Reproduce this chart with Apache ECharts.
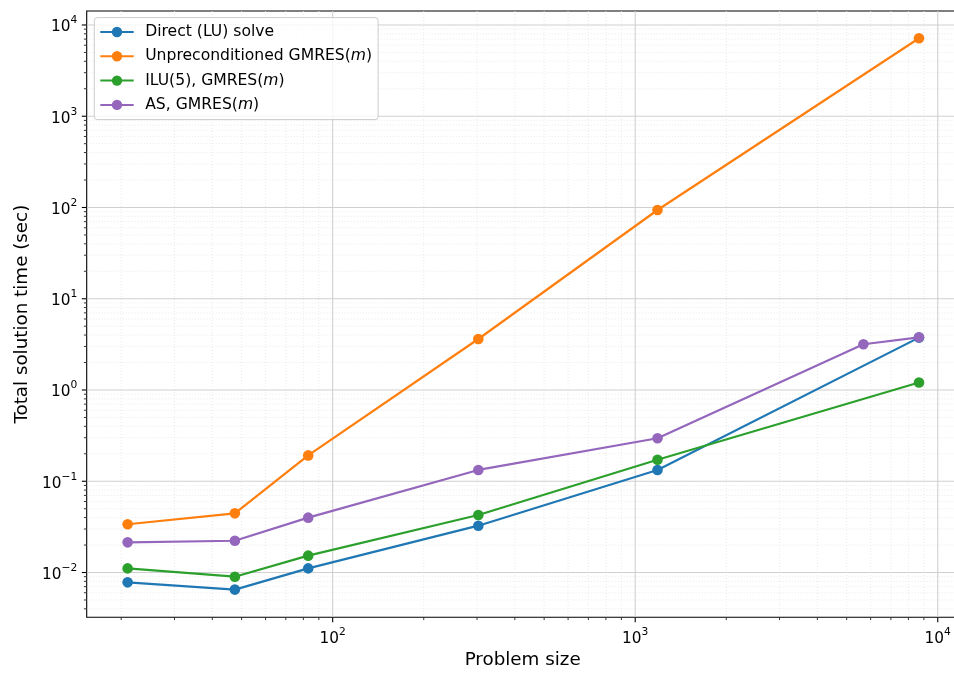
<!DOCTYPE html>
<html>
<head>
<meta charset="utf-8">
<script src="https://cdn.jsdelivr.net/npm/echarts@6/dist/echarts.min.js"></script>
<style>
  html, body { margin: 0; padding: 0; background: #ffffff; }
  #chart { width: 954px; height: 675px; }
</style>
</head>
<body>
<div id="chart"></div>
<script>
// Problem sizes (x) and total solution times in seconds (y)
const problemSize = [21, 47.5, 83, 303, 1185, 8670];
const asProblemSize = [21, 47.5, 83, 303, 1185, 5680, 8670];
const directLU = [0.0078, 0.0065, 0.0111, 0.0326, 0.133, 3.75];
const unpreconditioned = [0.0338, 0.0445, 0.192, 3.62, 93.9, 7150];
const ilu5 = [0.0111, 0.0090, 0.0153, 0.0427, 0.172, 1.21];
const additiveSchwarz = [0.0214, 0.0223, 0.0399, 0.133, 0.296, 3.17, 3.78];

const seriesNames = ['Direct (LU) solve', 'Unpreconditioned GMRES(m)', 'ILU(5), GMRES(m)', 'AS, GMRES(m)'];
const seriesColors = ['#1f77b4', '#ff7f0e', '#2ca02c', '#9467bd'];

// Axis limits and tick positions
const xLimits = [15.38, 11720];
const yLimits = [0.00323, 14230];
const xMajorTicks = [1e2, 1e3, 1e4];
const yMajorTicks = [1e-2, 1e-1, 1e0, 1e1, 1e2, 1e3, 1e4];
const minorMantissas = [2, 3, 4, 5, 6, 7, 8, 9];
const xMinorDecades = [1e1, 1e2, 1e3];
const yMinorDecades = [1e-3, 1e-2, 1e-1, 1e0, 1e1, 1e2, 1e3];

function minorTicks(decades, lim) {
  const out = [];
  decades.forEach(d => minorMantissas.forEach(m => {
    const v = +(m * d).toPrecision(6);
    if (v > lim[0] && v < lim[1]) out.push(v);
  }));
  return out;
}
const xMinorTicks = minorTicks(xMinorDecades, xLimits);
const yMinorTicks = minorTicks(yMinorDecades, yLimits);

const FONT = 'DejaVu Sans';

function powerLabel(v) {
  const e = Math.round(Math.log10(v));
  if (Math.abs(Math.log10(v) - e) > 1e-6) return '';
  const exp = e < 0 ? '\u2212' + (-e) : String(e);
  return '{b|10}{s|' + exp + '}';
}
const labelRich = {
  b: { fontFamily: FONT, fontSize: 15.3, color: '#000', lineHeight: 20, verticalAlign: 'bottom' },
  s: { fontFamily: FONT, fontSize: 10.7, color: '#000', lineHeight: 12, verticalAlign: 'top' }
};

// Grid lines and outward tick marks drawn through the axis scales
function tickSeries(dir, values, major) {
  return {
    type: 'custom',
    silent: true,
    z: 1,
    clip: false,
    animation: false,
    data: values.map(v => dir === 'x' ? [v, 1] : [100, v]),
    encode: { x: 0, y: 1 },
    renderItem(params, api) {
      const cs = params.coordSys;
      const p = api.coord([api.value(0), api.value(1)]);
      const gridStyle = major
        ? { stroke: '#d0d0d0', lineWidth: 1.1 }
        : { stroke: '#e4e4e4', lineWidth: 0.8, lineDash: [1, 2] };
      const tickLen = major ? 4.9 : 2.8;
      const tickStyle = { stroke: '#000', lineWidth: major ? 1.1 : 0.8 };
      if (dir === 'x') {
        const x = p[0];
        const bottom = cs.y + cs.height;
        return {
          type: 'group',
          children: [
            { type: 'line', shape: { x1: x, y1: cs.y, x2: x, y2: bottom }, style: gridStyle },
            { type: 'line', shape: { x1: x, y1: bottom, x2: x, y2: bottom + tickLen }, style: tickStyle }
          ]
        };
      }
      const y = p[1];
      return {
        type: 'group',
        children: [
          { type: 'line', shape: { x1: cs.x, y1: y, x2: cs.x + cs.width, y2: y }, style: gridStyle },
          { type: 'line', shape: { x1: cs.x, y1: y, x2: cs.x - tickLen, y2: y }, style: tickStyle }
        ]
      };
    }
  };
}

function lineSeries(name, xs, ys, color) {
  return {
    type: 'line',
    name: name,
    data: xs.map((x, i) => [x, ys[i]]),
    symbol: 'circle',
    symbolSize: 10.6,
    showSymbol: true,
    z: 3,
    lineStyle: { width: 2.2, color: color },
    itemStyle: { color: color },
    emphasis: { disabled: true },
    animation: false
  };
}

const chart = echarts.init(document.getElementById('chart'), null, { renderer: 'canvas' });
chart.setOption({
  animation: false,
  backgroundColor: '#ffffff',
  textStyle: { fontFamily: FONT },
  grid: {
    left: 86.7, top: 11, width: 871.9, height: 606.3,
    show: true, borderColor: '#000', borderWidth: 1.1, backgroundColor: '#ffffff',
    containLabel: false,
    outerBoundsMode: 'none'
  },
  legend: {
    data: seriesNames,
    orient: 'vertical',
    left: 94.3, top: 17.6,
    itemWidth: 33.4, itemHeight: 13, itemGap: 6.3,
    padding: [5.4, 6, 5.7, 5],
    backgroundColor: 'rgba(255,255,255,0.8)',
    borderColor: '#cccccc', borderWidth: 1, borderRadius: 3,
    formatter: name => name.replace('(m)', '({i|m})'),
    textStyle: {
      fontFamily: FONT, fontSize: 15.6, color: '#000', lineHeight: 18,
      padding: [0, 0, 0, 6.5],
      rich: { i: { fontFamily: FONT, fontStyle: 'italic', fontSize: 15.6, color: '#000', lineHeight: 18 } }
    }
  },
  xAxis: {
    type: 'log', logBase: 10, min: xLimits[0], max: xLimits[1],
    axisLine: { show: false }, axisTick: { show: false }, splitLine: { show: false },
    axisLabel: { formatter: powerLabel, margin: 9.5, rich: labelRich, showMinLabel: false, showMaxLabel: false },
    name: 'Problem size', nameLocation: 'middle', nameGap: 29.5,
    nameTextStyle: { fontFamily: FONT, fontSize: 18.3, color: '#000' }
  },
  yAxis: {
    type: 'log', logBase: 10, min: yLimits[0], max: yLimits[1],
    axisLine: { show: false }, axisTick: { show: false }, splitLine: { show: false },
    axisLabel: { formatter: powerLabel, margin: 9.5, rich: labelRich, showMinLabel: false, showMaxLabel: false },
    name: 'Total solution time (sec)', nameLocation: 'middle', nameGap: 53,
    nameTextStyle: { fontFamily: FONT, fontSize: 18.3, color: '#000' }
  },
  series: [
    tickSeries('x', xMinorTicks, false),
    tickSeries('y', yMinorTicks, false),
    tickSeries('x', xMajorTicks, true),
    tickSeries('y', yMajorTicks, true),
    lineSeries(seriesNames[0], problemSize, directLU, seriesColors[0]),
    lineSeries(seriesNames[1], problemSize, unpreconditioned, seriesColors[1]),
    lineSeries(seriesNames[2], problemSize, ilu5, seriesColors[2]),
    lineSeries(seriesNames[3], asProblemSize, additiveSchwarz, seriesColors[3])
  ]
});
</script>
</body>
</html>
